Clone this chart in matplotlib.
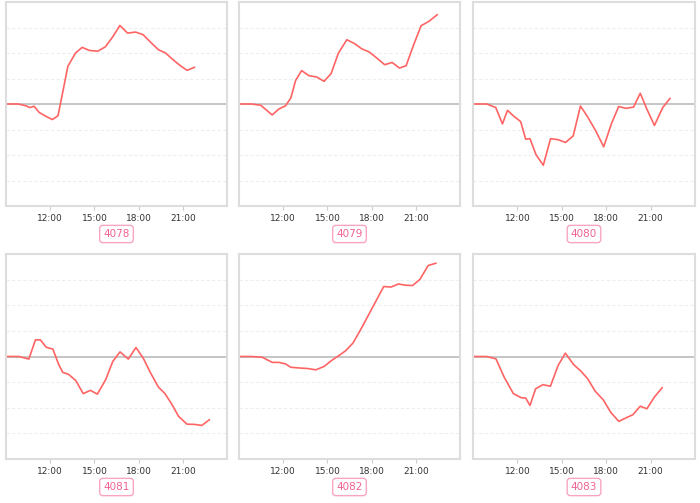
import numpy as np
import matplotlib
matplotlib.use("Agg")
import matplotlib.pyplot as plt

# codes shown under each small chart
codes = ["4078", "4079", "4080", "4081", "4082", "4083"]

# time of day (hours) and value (in gridline units)
t_4078 = [9.0, 9.83, 10.35, 10.62, 10.91, 11.25, 11.7, 12.15, 12.53, 12.75, 13.2, 13.72, 14.17, 14.66,
          15.22, 15.74, 16.24, 16.73, 17.25, 17.8, 18.3, 18.82, 19.34, 19.83, 20.33, 20.84, 21.29, 21.79]
v_4078 = [0, 0, -0.07, -0.14, -0.09, -0.33, -0.48, -0.61, -0.46, 0.17, 1.48, 2.0, 2.22, 2.1,
          2.07, 2.24, 2.63, 3.08, 2.78, 2.82, 2.72, 2.42, 2.13, 2.0, 1.74, 1.5, 1.32, 1.44]

t_4079 = [9.0, 9.84, 10.48, 11.25, 11.7, 12.16, 12.52, 12.84, 13.25, 13.75, 14.27, 14.77, 15.25, 15.75,
          16.32, 16.84, 17.34, 17.84, 18.36, 18.89, 19.39, 19.89, 20.34, 20.86, 21.36, 21.89, 22.45]
v_4079 = [0, 0, -0.05, -0.43, -0.2, -0.07, 0.24, 0.92, 1.31, 1.11, 1.06, 0.89, 1.19, 2.0,
          2.52, 2.37, 2.16, 2.04, 1.8, 1.54, 1.63, 1.41, 1.5, 2.33, 3.07, 3.24, 3.5]

t_4080 = [9.0, 9.94, 10.54, 10.99, 11.33, 11.78, 12.22, 12.56, 12.85, 13.26, 13.75, 14.24, 14.76, 15.25,
          15.77, 16.26, 16.73, 17.29, 17.83, 18.35, 18.84, 19.35, 19.85, 20.3, 20.77, 21.26, 21.82, 22.31]
v_4080 = [0, 0, -0.14, -0.78, -0.25, -0.49, -0.69, -1.38, -1.36, -1.99, -2.4, -1.36, -1.4, -1.51,
          -1.25, -0.08, -0.49, -1.05, -1.68, -0.78, -0.1, -0.17, -0.12, 0.42, -0.23, -0.84, -0.14, 0.22]

t_4081 = [9.0, 9.87, 10.55, 11.0, 11.33, 11.73, 12.18, 12.56, 12.85, 13.23, 13.74, 14.24, 14.73, 15.2, 15.76,
          16.25, 16.74, 17.3, 17.82, 18.31, 18.82, 19.34, 19.79, 20.23, 20.72, 21.28, 21.8, 22.29, 22.8]
v_4081 = [0, 0, -0.1, 0.65, 0.65, 0.36, 0.29, -0.29, -0.62, -0.69, -0.94, -1.45, -1.32, -1.47, -0.91,
          -0.19, 0.18, -0.1, 0.35, -0.06, -0.65, -1.19, -1.45, -1.84, -2.34, -2.64, -2.65, -2.69, -2.47]

t_4082 = [9.0, 9.86, 10.58, 11.26, 11.71, 12.16, 12.52, 13.13, 13.69, 14.21, 14.77, 15.27, 15.76,
          16.23, 16.73, 17.25, 17.79, 18.31, 18.82, 19.32, 19.82, 20.33, 20.78, 21.28, 21.84, 22.36]
v_4082 = [0, 0, -0.03, -0.23, -0.23, -0.29, -0.42, -0.45, -0.47, -0.52, -0.39, -0.16, 0.03,
          0.22, 0.52, 1.04, 1.62, 2.18, 2.73, 2.71, 2.83, 2.78, 2.77, 3.01, 3.55, 3.64]

t_4083 = [9.0, 9.92, 10.55, 11.11, 11.73, 12.27, 12.56, 12.85, 13.23, 13.72, 14.23, 14.75, 15.24,
          15.79, 16.29, 16.75, 17.25, 17.8, 18.32, 18.85, 19.32, 19.81, 20.3, 20.75, 21.26, 21.78]
v_4083 = [0, 0, -0.09, -0.81, -1.45, -1.61, -1.62, -1.91, -1.26, -1.1, -1.16, -0.35, 0.13,
          -0.31, -0.57, -0.87, -1.35, -1.69, -2.19, -2.53, -2.4, -2.27, -1.94, -2.04, -1.58, -1.22]

series = [(t_4078, v_4078), (t_4079, v_4079), (t_4080, v_4080),
          (t_4081, v_4081), (t_4082, v_4082), (t_4083, v_4083)]

tick_hours = [12, 15, 18, 21]
tick_labels = ["12:00", "15:00", "18:00", "21:00"]

W, H = 700, 503
fig = plt.figure(figsize=(W / 100, H / 100), dpi=100)

# panel boxes in pixels: left, top, right, bottom
cols = [(6, 227), (239, 460), (473, 695)]
rows = [(2, 206, 234), (254, 459, 487)]

for k, (t, v) in enumerate(series):
    x0, x1 = cols[k % 3]
    y0, y1, ylab = rows[k // 3]
    ax = fig.add_axes([x0 / W, 1 - y1 / H, (x1 - x0) / W, (y1 - y0) / H])
    ax.set_xlim(9, 24)
    ax.set_ylim(-4, 4)

    for g in [-3, -2, -1, 1, 2, 3]:
        ax.axhline(g, color="#eeeeee", lw=0.8, ls=(0, (3, 2)), zorder=0)
    ax.axhline(0, color="#bbbbbb", lw=1.2, zorder=1)
    ax.plot(t, v, color="#ff6464", lw=1.2, zorder=2)

    ax.set_yticks([])
    ax.set_xticks(tick_hours)
    ax.set_xticklabels(tick_labels, fontsize=6.5, color="#333333")
    ax.tick_params(axis="x", length=3, color="#cccccc", pad=3)
    for s in ax.spines.values():
        s.set_color("#dddddd")
        s.set_linewidth(1.5)

    fig.text((x0 + x1) / 2 / W, 1 - ylab / H, codes[k], ha="center", va="center",
             fontsize=7.5, color="#f06292",
             bbox=dict(boxstyle="round,pad=0.35,rounding_size=0.3", fc="white",
                       ec="#f8a5c2", lw=1.0))

fig.savefig("out.png", dpi=100)
